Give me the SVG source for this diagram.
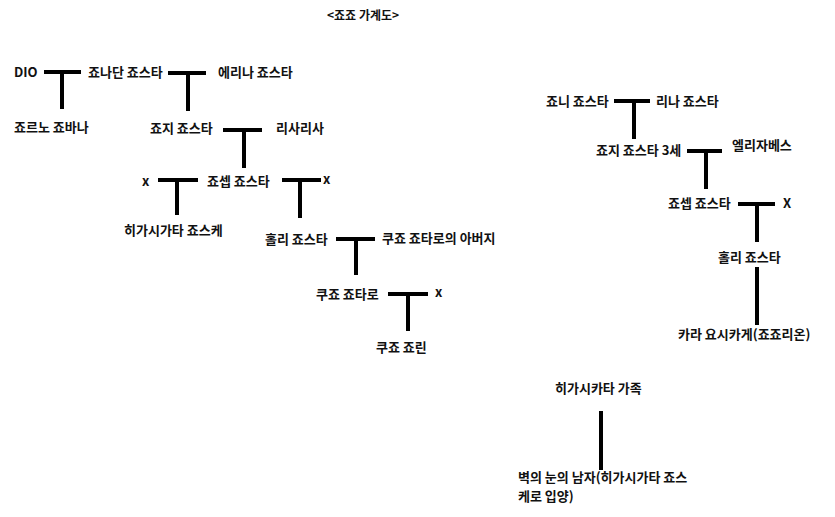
<svg xmlns="http://www.w3.org/2000/svg" width="835" height="517" viewBox="0 0 835 517">
<style>
text{font-family:"Noto Sans CJK KR","Liberation Sans",sans-serif;font-size:13px;font-weight:bold;fill:#111}
text.t{font-size:12px}
.c line{stroke:#000;stroke-width:4}
</style>
<rect width="835" height="517" fill="#fff"/>
<text class="t" x="327" y="20">&lt;죠죠 가계도&gt;</text>
<g class="c" id="connectors">
<line x1="44" y1="72" x2="81" y2="72"/><line x1="62" y1="72" x2="62" y2="109"/>
<line x1="168" y1="73" x2="206" y2="73"/><line x1="188" y1="73" x2="188" y2="111"/>
<line x1="223" y1="130" x2="262" y2="130"/><line x1="244" y1="130" x2="244" y2="168"/>
<line x1="158" y1="180" x2="198" y2="180"/><line x1="177" y1="180" x2="177" y2="215"/>
<line x1="282" y1="180" x2="321" y2="180"/><line x1="300" y1="180" x2="300" y2="218"/>
<line x1="336" y1="239" x2="375" y2="239"/><line x1="356" y1="239" x2="356" y2="275"/>
<line x1="388" y1="294" x2="428" y2="294"/><line x1="408" y1="294" x2="408" y2="331"/>
<line x1="614" y1="101" x2="650" y2="101"/><line x1="634" y1="101" x2="634" y2="139"/>
<line x1="687" y1="151" x2="722" y2="151"/><line x1="706" y1="151" x2="706" y2="189"/>
<line x1="738" y1="204" x2="775" y2="204"/><line x1="757" y1="204" x2="757" y2="242"/>
<line x1="757" y1="267" x2="757" y2="325"/>
<line x1="601" y1="411" x2="601" y2="470"/>
</g>
<g id="dio"><text x="14" y="77">DIO</text></g>
<g id="jonathan"><text x="88" y="77">죠나단 죠스타</text></g>
<g id="erina"><text x="218" y="77">에리나 죠스타</text></g>
<g id="giorno"><text x="14" y="132">죠르노 죠바나</text></g>
<g id="george"><text x="150" y="133">죠지 죠스타</text></g>
<g id="lisalisa"><text x="276" y="133">리사리사</text></g>
<g id="x1"><text x="142" y="186">x</text></g>
<g id="joseph"><text x="207" y="186">죠셉 죠스타</text></g>
<g id="x2"><text x="323" y="184">x</text></g>
<g id="josuke"><text x="124" y="235">히가시가타 죠스케</text></g>
<g id="holly"><text x="265" y="244">홀리 죠스타</text></g>
<g id="jotarofather"><text x="382" y="243">쿠죠 죠타로의 아버지</text></g>
<g id="jotaro"><text x="316" y="299">쿠죠 죠타로</text></g>
<g id="x3"><text x="435" y="297">x</text></g>
<g id="jolyne"><text x="376" y="352">쿠죠 죠린</text></g>
<g id="johnny"><text x="546" y="106">죠니 죠스타</text></g>
<g id="rina"><text x="656" y="106">리나 죠스타</text></g>
<g id="george3"><text x="596" y="155">죠지 죠스타 3세</text></g>
<g id="elizabeth"><text x="732" y="150">엘리자베스</text></g>
<g id="joseph2"><text x="668" y="208">죠셉 죠스타</text></g>
<g id="x4"><text x="783" y="208">X</text></g>
<g id="holly2"><text x="718" y="262">홀리 죠스타</text></g>
<g id="kira"><text x="678" y="339">카라 요시카게(죠죠리온)</text></g>
<g id="higashikata"><text x="555" y="393">히가시카타 가족</text></g>
<g id="wallman"><text x="518" y="482">벽의 눈의 남자(히가시가타 죠스<tspan x="518" dy="19">케로 입양)</tspan></text></g>
</svg>
